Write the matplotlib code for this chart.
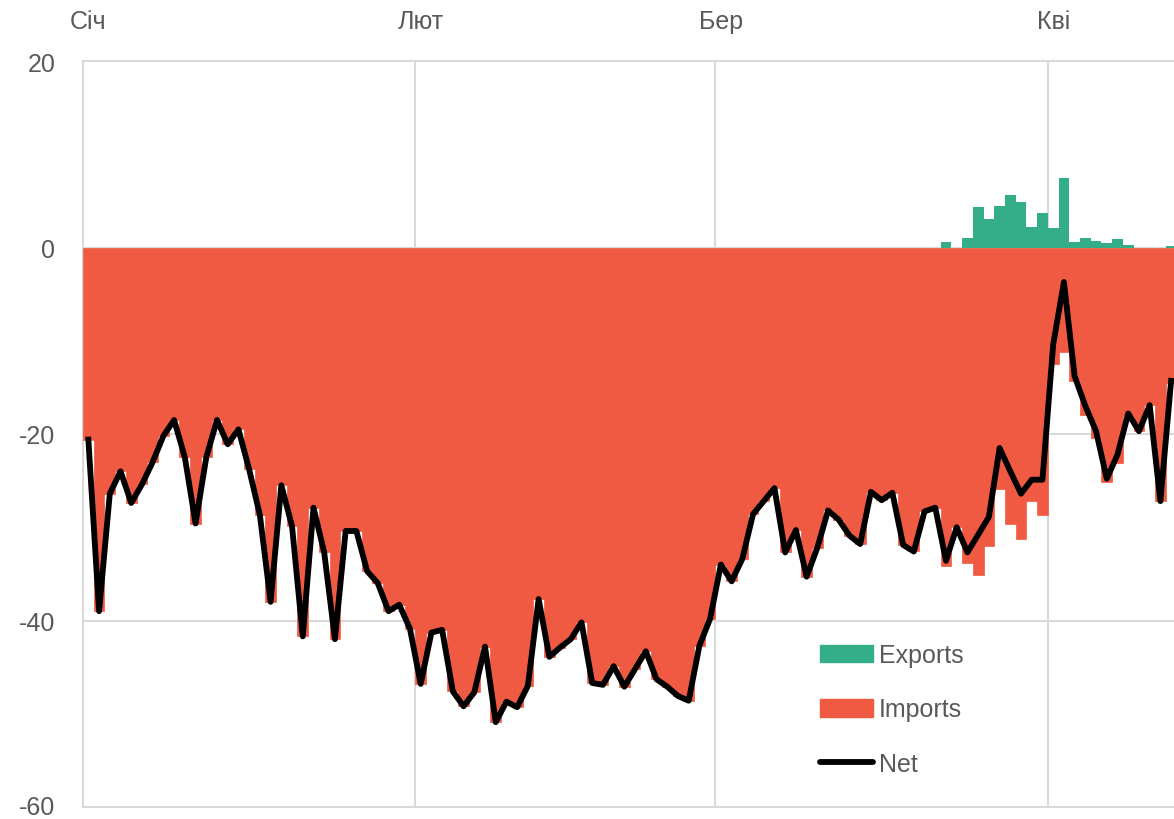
import numpy as np
import matplotlib
matplotlib.use("Agg")
import matplotlib.pyplot as plt
from matplotlib.patches import Patch
from matplotlib.lines import Line2D

# daily values, Jan 1 .. Apr 12
net = [-20.6, -39.0, -26.4, -24.0, -27.4, -25.4, -23.0, -20.2, -18.5, -22.5,
       -29.6, -22.5, -18.5, -21.1, -19.5, -23.8, -28.7, -38.0, -25.5, -29.9,
       -41.7, -27.9, -32.7, -42.0, -30.4, -30.4, -34.7, -36.0, -39.0, -38.3,
       -40.9, -46.8, -41.3, -41.0, -47.6, -49.2, -47.7, -42.8, -50.9, -48.7,
       -49.3, -47.0, -37.7, -43.9, -42.9, -42.0, -40.2, -46.7, -46.9, -44.9,
       -47.1, -45.2, -43.3, -46.3, -47.1, -48.1, -48.6, -42.7, -39.8, -34.0,
       -35.8, -33.4, -28.6, -27.2, -25.8, -32.7, -30.3, -35.3, -32.2, -28.2,
       -29.2, -30.9, -31.8, -26.2, -27.1, -26.3, -31.9, -32.6, -28.3, -27.9,
       -33.6, -30.0, -32.7, -30.8, -28.9, -21.5, -24.0, -26.4, -24.9, -24.9,
       -10.4, -3.7, -13.8, -17.0, -19.7, -24.8, -22.2, -17.8, -19.7, -16.9,
       -27.2, -14.3]

exports = [0] * 80 + [0.6, 0.0, 1.07, 4.3, 3.1, 4.4, 5.6, 4.9, 2.25, 3.75,
                      2.07, 7.5, 0.54, 1.0, 0.68, 0.43, 0.89, 0.32, 0.0, 0.0,
                      0.0, 0.17]

imports = [-20.6, -39.0, -26.4, -24.0, -27.4, -25.4, -23.0, -20.2, -18.5, -22.5,
           -29.6, -22.5, -18.5, -21.1, -19.5, -23.8, -28.7, -38.0, -25.5, -29.9,
           -41.7, -27.9, -32.7, -42.0, -30.4, -30.4, -34.7, -36.0, -39.0, -38.3,
           -40.9, -46.8, -41.3, -41.0, -47.6, -49.2, -47.7, -42.8, -50.9, -48.7,
           -49.3, -47.0, -37.7, -43.9, -42.9, -42.0, -40.2, -46.7, -46.9, -44.9,
           -47.1, -45.2, -43.3, -46.3, -47.1, -48.1, -48.6, -42.7, -39.8, -34.0,
           -35.8, -33.4, -28.6, -27.2, -25.8, -32.7, -30.3, -35.3, -32.2, -28.2,
           -29.2, -30.9, -31.8, -26.2, -27.1, -26.3, -31.9, -32.6, -28.3, -27.9,
           -34.2, -30.0, -33.8, -35.1, -32.0, -25.9, -29.6, -31.3, -27.15, -28.65,
           -12.5, -11.2, -14.3, -18.0, -20.4, -25.2, -23.1, -18.1, -19.7, -16.9,
           -27.2, -14.5]

month_labels = ["Січ", "Лют", "Бер", "Кві"]
month_starts = [0, 31, 59, 90]

green = "#33ae88"
red = "#f05a42"
grid_c = "#d9d9d9"
text_c = "#595959"

plt.rcParams['font.family'] = ['Liberation Sans', 'DejaVu Sans']

fig = plt.figure(figsize=(11.74, 8.2), dpi=100)
ax = fig.add_axes([83 / 1174, 12 / 820, 1 - 83 / 1174, 746 / 820])

days = np.arange(len(net))
ax.bar(days, imports, width=1.0, color=red, edgecolor=red, linewidth=0.5, zorder=1)
ax.bar(days, exports, width=1.0, color=green, linewidth=0, zorder=1)
ax.plot(days, net, color="black", lw=4.2, zorder=3)

for m in month_starts[1:]:
    ax.axvline(m - 0.5, color=grid_c, lw=1.5, zorder=0)
for yv in [0, -20, -40]:
    ax.axhline(yv, color=grid_c, lw=1.5, zorder=0)

ax.set_xlim(-0.5, 101.27)
ax.set_ylim(-60, 20)
ax.set_yticks([20, 0, -20, -40, -60])
ax.set_yticklabels(["20", "0", "-20", "-40", "-60"])
ax.xaxis.tick_top()
ax.set_xticks(month_starts)
ax.set_xticklabels(month_labels)
ax.tick_params(axis="both", length=0, labelsize=18, labelcolor=text_c)
ax.tick_params(axis="x", pad=20)
ax.tick_params(axis="y", pad=20)
# keep the bottom label inside the canvas
ax.get_yticklabels()[-1].set_va("center")

for side in ["top", "bottom", "left"]:
    ax.spines[side].set_color(grid_c)
    ax.spines[side].set_linewidth(1.5)
    ax.spines[side].set_zorder(0)
ax.spines["right"].set_visible(False)

handles = [Patch(color=green), Patch(color=red),
           Line2D([0], [0], color="black", lw=4.2, solid_capstyle="round")]
leg = ax.legend(handles, ["Exports", "Imports", "Net"], loc="upper left",
                bbox_to_anchor=(820 / 1174, 1 - 644 / 820), bbox_transform=fig.transFigure,
                frameon=False, fontsize=18, labelcolor=text_c, borderpad=0,
                borderaxespad=0, handlelength=2.1, handletextpad=0.25,
                labelspacing=1.22)

fig.savefig("out.png", dpi=100)
